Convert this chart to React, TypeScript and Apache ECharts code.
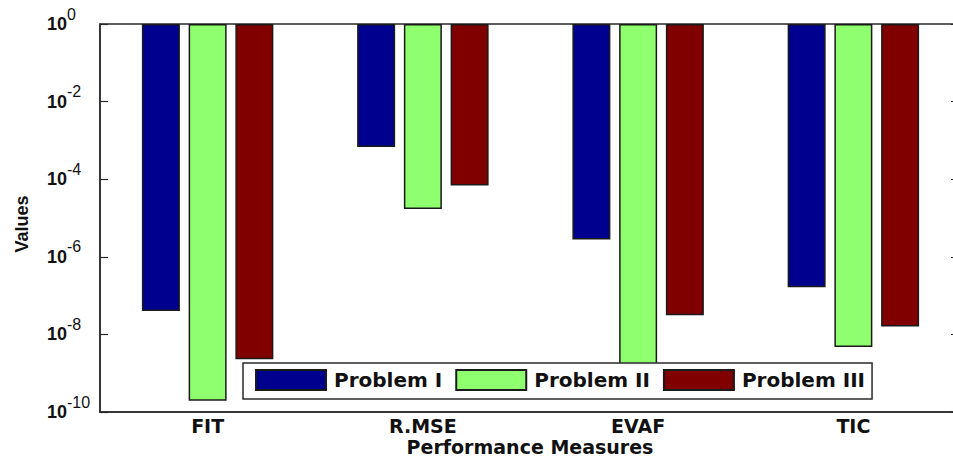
import React, { useEffect, useRef } from "react";
import * as echarts from "echarts";

// Performance measures (x categories) and the three problems' values
const categories = ["FIT", "R.MSE", "EVAF", "TIC"];
const seriesNames = ["Problem I", "Problem II", "Problem III"];
const problemI = [4.0e-8, 6.8e-4, 2.8e-6, 1.65e-7];
const problemII = [1.95e-10, 1.7e-5, 9.0e-10, 4.7e-9];
const problemIII = [2.3e-9, 6.9e-5, 3.1e-8, 1.6e-8];
const seriesColors = ["#00008F", "#8FFF6F", "#800000"];

const axisMin = 1e-10;
const axisMax = 1;

const AXIS_COLOR = "#2a2a2a";
const TEXT_COLOR = "#111111";
const WIDE_FONT = "DejaVu Sans";
const NARROW_FONT = "Liberation Sans";

export default function App() {
  const ref = useRef<HTMLDivElement>(null);

  useEffect(() => {
    document.body.style.margin = "0";
    if (!ref.current) return;
    const chart = echarts.init(ref.current, undefined, { renderer: "svg" });

    const allSeries = [problemI, problemII, problemIII].map((values, i) => ({
      name: seriesNames[i],
      type: "bar",
      data: values,
      barWidth: 38,
      barGap: "23%",
      itemStyle: {
        color: seriesColors[i],
        borderColor: "#1a1a1a",
        borderWidth: 1.5,
      },
      z: 2,
    }));

    // 10 with the decade exponent raised as a superscript
    const powerLabel = (v: number) => {
      const e = Math.round(Math.log10(v));
      return `{b|10}{s|${e}}`;
    };

    chart.setOption({
      animation: false,
      backgroundColor: "#ffffff",
      grid: {
        left: 100,
        top: 24,
        width: 861,
        height: 388,
        outerBoundsMode: "none",
        containLabel: false,
        show: true,
        borderColor: AXIS_COLOR,
        borderWidth: 1.5,
      },
      legend: {
        data: seriesNames,
        left: 243,
        top: 363,
        orient: "horizontal",
        icon: "rect",
        itemWidth: 70,
        itemHeight: 20,
        itemGap: 13,
        padding: [6, 7, 8, 12],
        backgroundColor: "#ffffff",
        borderColor: AXIS_COLOR,
        borderWidth: 1.5,
        borderRadius: 0,
        selectedMode: false,
        textStyle: {
          fontFamily: WIDE_FONT,
          fontWeight: "bold",
          fontSize: 20,
          color: TEXT_COLOR,
          padding: [0, 0, 0, 3],
        },
        z: 10,
      },
      xAxis: {
        type: "category",
        data: categories,
        axisLine: { lineStyle: { color: AXIS_COLOR, width: 1.5 } },
        axisTick: {
          inside: true,
          alignWithLabel: true,
          length: 7,
          lineStyle: { color: AXIS_COLOR, width: 1.2 },
        },
        axisLabel: {
          margin: 6,
          fontFamily: WIDE_FONT,
          fontWeight: "bold",
          fontSize: 19,
          lineHeight: 16,
          color: TEXT_COLOR,
        },
        splitLine: { show: false },
      },
      yAxis: [
        {
          type: "log",
          logBase: 10,
          min: axisMin,
          max: axisMax,
          interval: 2,
          axisLine: { show: true, lineStyle: { color: AXIS_COLOR, width: 1.5 } },
          axisTick: {
            show: true,
            inside: true,
            length: 8,
            lineStyle: { color: AXIS_COLOR, width: 1.2 },
          },
          splitLine: { show: false },
          minorTick: { show: false },
          axisLabel: {
            align: "left",
            margin: 53,
            formatter: powerLabel,
            rich: {
              b: {
                fontFamily: NARROW_FONT,
                fontWeight: "bold",
                fontSize: 18,
                lineHeight: 36,
                color: TEXT_COLOR,
              },
              s: {
                fontFamily: NARROW_FONT,
                fontSize: 16,
                lineHeight: 16,
                verticalAlign: "top",
                color: TEXT_COLOR,
              },
            },
          },
        },
        {
          type: "log",
          logBase: 10,
          min: axisMin,
          max: axisMax,
          interval: 2,
          position: "right",
          axisLine: { show: true, lineStyle: { color: AXIS_COLOR, width: 1.5 } },
          axisTick: {
            show: true,
            inside: true,
            length: 10,
            lineStyle: { color: AXIS_COLOR, width: 1.2 },
          },
          axisLabel: { show: false },
          splitLine: { show: false },
        },
      ],
      graphic: [
        {
          type: "text",
          x: 22,
          y: 224,
          rotation: Math.PI / 2,
          style: {
            text: "Values",
            font: `bold 18px "${NARROW_FONT}"`,
            fill: TEXT_COLOR,
            align: "center",
            textAlign: "center",
            verticalAlign: "middle",
            textVerticalAlign: "middle",
          },
        },
        {
          type: "text",
          x: 530,
          y: 447,
          style: {
            text: "Performance Measures",
            font: `bold 19px "${WIDE_FONT}"`,
            lineHeight: 16,
            fill: TEXT_COLOR,
            align: "center",
            textAlign: "center",
            verticalAlign: "middle",
            textVerticalAlign: "middle",
          },
        },
      ],
      series: allSeries,
    });

    return () => {
      chart.dispose();
    };
  }, []);

  return <div ref={ref} style={{ width: 953, height: 467 }} />;
}
